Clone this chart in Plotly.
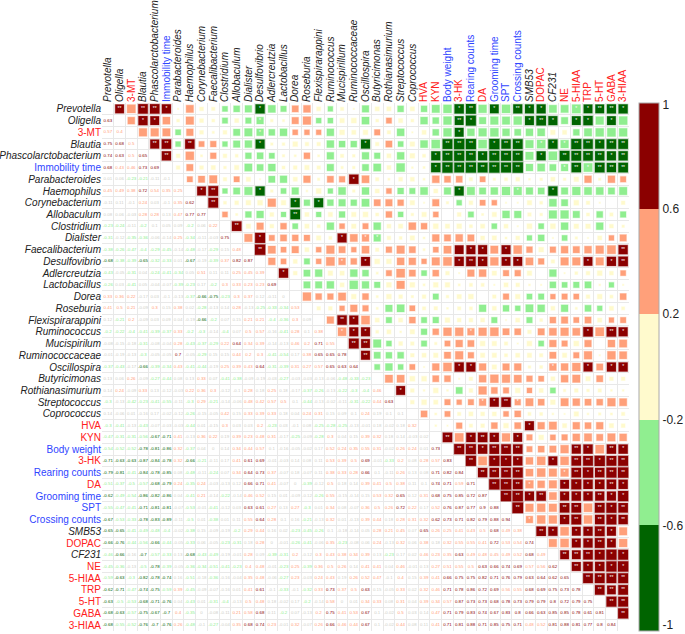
import math
import plotly.graph_objects as go

BLACK, RED, BLUE = "#222222", "#FF2020", "#2F45FF"

row_names = ["Prevotella","Oligella","3-MT","Blautia","Phascolarctobacterium","Immobility time","Parabacteroides",
    "Haemophilus","Corynebacterium","Allobaculum","Clostridium","Dialister","Faecalibacterium","Desulfovibrio",
    "Adlercreutzia","Lactobacillus","Dorea","Roseburia","Flexispirarappini","Ruminococcus","Mucispirilum",
    "Ruminococcaceae","Oscillospira","Butyricimonas","Rothianasimurium","Streptococcus","Coprococcus","HVA","KYN",
    "Body weight","3-HK","Rearing counts","DA","Grooming time","SPT","Crossing counts","SMB53","DOPAC","CF231","NE",
    "5-HIAA","TRP","5-HT","GABA","3-HIAA"]
col_names = ["Prevotella","Oligella","3-MT","Blautia","Phascolarctobacterium","Immobility time","Parabacteroides",
    "Haemophilus","Corynebacterium","Faecalibacterium","Clostridium","Allobaculum","Dialister","Desulfovibrio",
    "Adlercreutzia","Lactobacillus","Dorea","Roseburia","Flexispirarappini","Ruminococcus","Mucispirillum",
    "Ruminococcaceae","Oscillospira","Butyricimonas","Rothianasimurium","Streptococcus","Coprococcus","HVA","KYN",
    "Body weight","3-HK","Rearing counts","DA","Grooming time","SPT","Crossing counts","SMB53","DOPAC","CF231","NE",
    "5-HIAA","TRP","5-HT","GABA","3-HIAA"]
red_names = ["3-MT","HVA","KYN","3-HK","DA","DOPAC","NE","5-HIAA","TRP","5-HT","GABA","3-HIAA"]
blue_names = ["Immobility time","Body weight","Rearing counts","Grooming time","SPT","Crossing counts"]

r01 = [.63]
r02 = [.57,.4]
r03 = [.75,.68,.5]
r04 = [.74,.63,.5,.65]
r05 = [.68,.43,.46,.73,.69]
r06 = [.01,.06,-.23,-.21,-.11,-.1]
r07 = [.45,.49,.38,.72,.54,.35,.25]
r08 = [-.11,.11,-.1,.24,.03,-.1,.35,.62]
r09 = [.08,.06,-.03,.28,.28,.13,.47,.77,.77]
r10 = [-.23,-.24,-.11,-.2,.1,.05,.09,-.2,.06,.22]
r11 = [-.31,-.12,-.35,-.36,-.06,-.14,.25,-.34,-.11,-.03,.75]
r12 = [-.38,-.26,-.47,-.4,-.29,-.45,-.14,-.48,-.17,-.29,.15,.48]
r13 = [-.68,-.38,-.39,-.65,-.32,-.33,.01,-.67,-.19,-.39,.37,.82,.87]
r14 = [-.43,-.05,-.31,.04,-.24,-.41,-.34,.05,.51,.11,.11,.25,.45,.39]
r15 = [-.26,.03,-.41,.05,-.04,-.07,-.39,-.23,.17,-.2,.3,.33,.23,.23,.69]
r16 = [.33,.36,.22,-.17,.03,-.1,-.13,-.37,-.66,-.75,-.23,.3,.37,.12,-.11,0]
r17 = [.41,.5,.21,-.09,.3,.15,.38,.02,-.28,-.13,.14,.28,-.13,-.25,-.33,-.34,.53]
r18 = [.12,-.21,.2,-.09,.03,.09,.04,-.19,-.66,-.2,.07,.15,.21,.21,-.4,-.36,.3,.09]
r19 = [-.2,-.22,-.4,-.41,-.39,-.37,.33,-.2,-.3,-.14,-.4,.07,.5,.57,-.16,-.41,.28,.1,.38]
r20 = [-.08,-.15,-.18,-.31,-.08,-.04,.28,-.43,-.37,-.29,.22,.64,.34,.39,-.14,-.13,.46,.2,.71,.55]
r21 = [-.01,-.19,-.13,-.3,-.05,-.05,.7,-.05,-.29,.15,.15,.44,.2,.3,-.41,-.54,.17,.38,.65,.65,.78]
r22 = [-.37,-.43,-.17,-.66,-.39,-.34,.43,-.41,-.44,-.19,.25,.39,.43,.64,-.31,-.39,.31,.27,.57,.65,.63,.64]
r23 = [.13,.06,.26,-.09,-.27,-.44,.08,.13,.33,.07,-.41,-.38,-.09,-.19,-.03,-.27,-.03,-.03,-.13,-.06,-.48,-.33,-.23]
r24 = [.14,.24,-.09,.33,.13,-.12,-.03,.22,.36,.3,-.12,-.1,.28,.18,.25,.18,-.17,-.37,-.26,-.13,-.22,-.3,-.4,.46]
r25 = [-.3,-.13,-.42,-.23,-.41,-.55,-.11,-.3,.29,-.21,-.14,-.06,.48,.42,.57,.5,.1,-.44,-.13,-.02,-.11,-.31,-.22,.44,.63]
r26 = [.14,-.06,.01,-.16,.17,-.02,-.12,-.26,-.15,-.05,.42,.15,.33,.39,.33,.18,.04,.24,.31,.15,.09,.1,.24,.19,.1,.1]
r27 = [-.3,-.41,-.13,-.43,-.07,-.03,-.03,-.44,.01,-.15,.3,.03,.03,.2,-.23,.03,-.1,.08,-.25,-.28,-.25,-.13,-.01,.18,-.02,.18,.32]
r28 = [-.47,-.31,-.31,-.56,-.67,-.71,.41,-.13,.36,.22,.19,.39,.23,.48,.31,-.17,-.25,-.09,-.28,.3,.04,.15,.39,.32,.18,.14,-.03,.02]
r29 = [-.54,-.52,-.52,-.78,-.81,-.86,.32,-.37,.04,0,.14,.34,.44,.57,.1,-.16,-.05,-.02,.17,.52,.24,.35,.55,.31,-.02,.26,.24,.01,.73]
r30 = [-.71,-.63,-.63,-.87,-.84,-.78,.32,-.66,-.21,-.11,.17,.41,.61,.69,-.01,-.03,.14,.08,.11,.53,.39,.5,.69,-.01,-.33,.2,.08,.28,.57,.83]
r31 = [-.79,-.81,-.41,-.84,-.78,-.85,.08,-.48,-.11,-.24,.07,.34,.64,.73,.37,-.07,.18,-.07,.11,.38,.33,.28,.66,.1,-.11,.26,.13,.08,.71,.82,.84]
r32 = [-.51,-.37,-.5,-.57,-.68,-.79,.24,-.35,.24,-.03,-.13,.12,.66,.71,.41,-.07,0,-.39,-.12,.5,.18,.14,.39,.41,.5,.38,.11,.1,.74,.71,.59,.71]
r33 = [-.62,-.49,-.54,-.86,-.82,-.86,.04,-.41,.21,-.14,-.22,-.14,.46,.52,.15,.01,-.09,-.12,-.26,.55,-.15,-.14,.15,.53,.32,.65,.12,.31,.68,.75,.85,.72,.87]
r34 = [-.55,-.47,-.41,-.71,-.81,-.81,-.07,-.53,-.01,-.41,-.12,.03,.63,.61,.27,.13,.27,-.3,.01,.34,.08,-.07,.36,.5,.26,.72,.22,.17,.52,.76,.87,.77,.9,.88]
r35 = [-.67,-.53,-.33,-.78,-.83,-.89,-.11,-.5,.01,-.38,.01,.11,.55,.64,.28,.1,.16,-.21,-.13,.32,.01,-.13,.39,.44,.18,.28,.31,.32,.62,.73,.71,.82,.79,.88,.94]
r36 = [-.65,-.65,-.41,-.49,-.48,-.4,-.02,-.38,.15,-.09,-.19,-.2,.29,.44,.16,.02,-.23,-.45,-.26,.1,-.18,-.14,.05,.28,.21,.45,.07,.65,.26,.25,.41,.43,.5,.68,.49,.38]
r37 = [-.66,-.76,-.44,-.56,-.66,-.44,-.05,-.33,.06,-.05,-.23,-.31,.18,.28,0,-.01,-.26,-.41,-.06,.35,-.23,-.08,.06,.24,-.13,.32,.06,.38,.18,.32,.55,.55,.41,.72,.53,.54,.74]
r38 = [-.46,-.66,-.16,-.7,-.57,-.33,.13,-.68,-.43,-.49,-.19,-.01,.28,.09,-.39,-.31,.2,-.12,.3,.43,.38,.34,.39,.13,-.23,.17,.02,.46,.23,.35,.63,.49,.48,.45,.49,.52,.68,.49]
r39 = [-.45,-.36,-.13,-.5,-.78,-.39,-.05,-.36,-.34,-.51,-.41,-.23,.4,.48,-.01,-.23,.25,-.39,.36,.5,.26,.14,.41,.41,.04,.46,-.01,.13,.27,.51,.55,.5,.63,.66,.74,.69,.57,.56,.62]
r40 = [-.59,-.63,-.3,-.82,-.78,-.74,.16,-.51,-.18,-.36,-.16,-.04,.35,.48,-.06,-.27,.23,-.03,.24,.43,.19,.26,.52,.47,-.1,.4,.15,.39,.41,.66,.75,.75,.82,.71,.76,.79,.63,.64,.62,.65]
r41 = [-.62,-.71,-.47,-.74,-.75,-.59,.39,-.45,-.09,-.07,-.16,.01,.41,.61,-.1,-.33,-.1,-.32,.33,.73,.37,.5,.63,.15,-.05,.33,.02,.32,.46,.71,.78,.86,.72,.69,.56,.55,.68,.69,.75,.73,.78]
r42 = [-.63,-.5,-.53,-.68,-.71,-.76,.04,-.43,.01,-.31,-.4,-.13,.5,.48,.18,-.02,.17,-.2,-.14,.58,0,.01,.34,.33,.08,.31,.04,.39,.34,.57,.87,.73,.73,.68,.78,.73,.79,.79,.8,.72,.79,.75]
r43 = [-.68,-.63,-.57,-.75,-.67,-.7,.4,-.35,0,-.08,-.11,.21,.58,.68,.11,-.2,.07,-.13,.2,.75,.41,.53,.67,.1,-.02,.5,.03,.14,.47,.71,.79,.83,.74,.67,.83,.8,.66,.63,.85,.85,.78,.61,.81]
r44 = [-.68,-.55,-.52,-.76,-.7,-.76,.26,-.48,-.1,-.27,-.04,.35,.68,.74,.23,-.01,.32,-.07,.26,.66,.46,.44,.67,.1,-.02,.44,.08,.11,.41,.71,.81,.88,.71,.85,.75,.71,.48,.52,.81,.88,.81,.77,.8,.84]
lower_rows = [r01,r02,r03,r04,r05,r06,r07,r08,r09,r10,r11,r12,r13,r14,r15,r16,r17,r18,r19,r20,r21,r22,
              r23,r24,r25,r26,r27,r28,r29,r30,r31,r32,r33,r34,r35,r36,r37,r38,r39,r40,r41,r42,r43,r44]

# significance marks, row -> columns
one_star = {0:[5,13,30,33,36,37,40,41,44],1:[3,4,13,31,36,38,40,41,43],2:[13,30],3:[13,22,33,37,38,39,42],
    4:[28,32,37,43],5:[28,39,41],6:[21],7:[8,13,30,35,38],8:[16,18],11:[13,20,22,23],13:[20,22,30,32,34,35,41,43],
    12:[31,32,34],14:[15],18:[21],19:[20,21,22,31,41,44],22:[30,31,38,41,43,44],24:[25],25:[32,33,35],27:[36],
    28:[31,33,35],29:[32,41,44],30:[33,34,35,38,42],31:[39,41],32:[36,39,40,41,42,44],33:[36,39,40,41,43,44],
    34:[43],35:[36,39,43],36:[38,40,41,43],37:[40,41,43],38:[42,43,44],39:[41,42,43,44]}
two_star = {0:[1,3,4,31,35,42,43],1:[30,37],3:[4,5,7,29,30,31,34,35,40,41,43,44],4:[5,29,30,31,33,34,35,39,40,41,42,44],
    5:[29,30,31,32,33,34,35,40,42,43,44],7:[9],8:[9],9:[16],10:[11],12:[13,44],13:[31,44],18:[20],19:[43],20:[21,22],
    21:[22],25:[34],28:[29,32],29:[30,31,33,34,35,40,43],30:[31,40,41,43,44],31:[32,33,34,35,40,42,43,44],32:[33,34,35,43],
    33:[34,35,37,42],34:[35,39,40,42,44],35:[40,42,44],36:[37,42],37:[42],38:[39,40,41],39:[40],40:[41,42,43,44],
    41:[42,43,44],42:[43,44],43:[44]}

CUTS = [-.975, -.6, -.2, .2, .6, .995]
FILL = ["#006400", "#90EE90", "#FFFACD", "#FFA07A", "#8B0000"]
EDGE = ["rgba(0,100,0,.35)", "rgba(144,238,144,.35)", "rgba(255,250,205,.45)", "rgba(255,160,122,.35)", "rgba(139,0,0,.35)"]
TXT = ["#006400", "#90EE90", "#CFCFC8", "#FFA07A", "#8B0000"]


def band(v):
    if v <= -.6: return 0
    if v <= -.2: return 1
    if v < .2: return 2
    if v < .6: return 3
    return 4


def label(name):
    if name in red_names:
        return f"<span style='color:{RED}'>{name}</span>"
    if name in blue_names:
        return f"<span style='color:{BLUE}'>{name}</span>"
    return f"<i>{name}</i>"


lx, ly, lv = [], [], []
sx, sy, sv = [], [], []
for k, vals in enumerate(lower_rows):
    i = k + 1
    for j, v in enumerate(vals):
        lx.append(j); ly.append(i); lv.append(v)
        sx.append(i); sy.append(j); sv.append(v)

fig = go.Figure()
n = len(row_names)
half = [h - .5 for h in range(n + 1)]

fig.add_trace(go.Scatter(
    x=sx, y=sy, mode="markers", hoverinfo="skip", cliponaxis=False,
    marker=dict(symbol="square", opacity=1, size=[11 * math.sqrt(abs(v)) for v in sv], color=sv, coloraxis="coloraxis",
                line=dict(width=1.2, color=[EDGE[band(v)] for v in sv])),
))
fig.add_trace(go.Scatter(
    x=lx, y=ly, mode="text", hoverinfo="skip", text=[f"{v:g}" for v in lv],
    textposition="middle center",
    textfont=dict(size=4.4, family="Liberation Sans", color=[TXT[band(v)] for v in lv]),
))
tx, ty, tt = [], [], []
for marks, sym in ((one_star, "*"), (two_star, "**")):
    for row, cols in marks.items():
        for c in cols:
            tx.append(c); ty.append(row); tt.append(sym)
fig.add_trace(go.Scatter(
    x=tx, y=ty, mode="text", text=tt, hoverinfo="skip", textposition="middle center",
    textfont=dict(size=5, family="Liberation Sans", color="white"),
))

axis = dict(showgrid=False, zeroline=False, showline=False, ticks="", ticklen=0,
            tickmode="array", tickvals=list(range(n)), automargin=False,
            minor=dict(tickmode="array", tickvals=half, showgrid=True, gridcolor="#E8E8E8", gridwidth=1, ticks=""),
            tickfont=dict(family="Liberation Sans", size=10, color=BLACK))
fig.update_layout(
    width=685, height=634, autosize=False, showlegend=False,
    margin=dict(l=102, r=56, t=103, b=3, pad=0, autoexpand=False),
    paper_bgcolor="white", plot_bgcolor="white",
    font=dict(family="Liberation Sans", color=BLACK),
    xaxis=dict(axis, side="top", range=[-.5, n - .5], tickangle=-90, ticktext=[label(c) for c in col_names]),
    yaxis=dict(axis, range=[n - .5, -.5], ticktext=[label(c) for c in row_names]),
    coloraxis=dict(
        cmin=-1, cmax=1,
        colorscale=[[0, FILL[0]], [.2, FILL[0]], [.2, FILL[1]], [.4, FILL[1]], [.4, FILL[2]], [.6, FILL[2]],
                    [.6, FILL[3]], [.8, FILL[3]], [.8, FILL[4]], [1, FILL[4]]],
        colorbar=dict(thickness=20, thicknessmode="pixels", len=528, lenmode="pixels", x=1.0195, xanchor="left",
                      y=.5, yanchor="middle", xpad=0, ypad=0, outlinecolor="#AAAAAA", outlinewidth=1,
                      tickmode="array", tickvals=CUTS, ticktext=["-1", "-0.6", "-0.2", "0.2", "0.6", "1"],
                      ticks="", ticklen=0, tickfont=dict(family="Liberation Sans", size=12, color=BLACK)),
    ),
)
fig.write_html("out.html", config=dict(displayModeBar=False),
               post_script="document.body.style.margin='0';document.documentElement.style.overflow='hidden';")
